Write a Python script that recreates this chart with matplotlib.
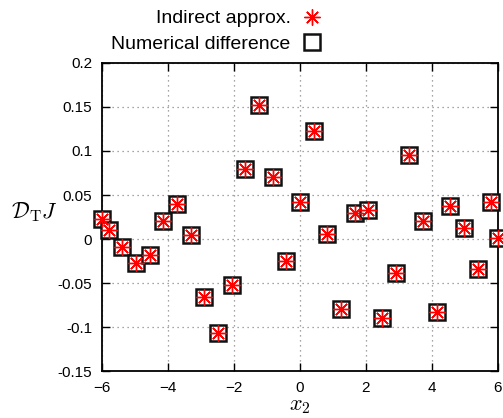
import matplotlib.pyplot as plt

plt.rcParams['font.family'] = ['Liberation Sans', 'DejaVu Sans']
plt.rcParams['mathtext.fontset'] = 'cm'

x2 = [-6.0, -5.79, -5.38, -4.97, -4.55, -4.14, -3.72, -3.31, -2.90, -2.48,
      -2.07, -1.66, -1.24, -0.83, -0.41, 0.0, 0.41, 0.83, 1.24, 1.66,
      2.07, 2.48, 2.90, 3.31, 3.72, 4.14, 4.55, 4.97, 5.38, 5.79, 6.0]
indirect = [0.023, 0.010, -0.009, -0.027, -0.018, 0.021, 0.040, 0.004, -0.066, -0.107,
            -0.052, 0.079, 0.152, 0.071, -0.025, 0.042, 0.123, 0.006, -0.079, 0.030,
            0.033, -0.090, -0.039, 0.095, 0.021, -0.083, 0.038, 0.013, -0.034, 0.042, 0.001]
numerical = list(indirect)

fig = plt.figure(figsize=(5.03, 4.18), dpi=100)
ax = fig.add_axes([0.2028, 0.1124, 0.7872, 0.7369])

ax.plot(x2, indirect, linestyle='none', marker=(8, 2, 0), markersize=11.5,
        markeredgewidth=1.0, color='red', label='Indirect approx.',
        zorder=4, clip_on=False)
ax.plot(x2, numerical, linestyle='none', marker='s', markersize=11,
        markeredgewidth=1.8, markerfacecolor='white', markeredgecolor='#111111',
        label='Numerical difference', zorder=3, clip_on=False)

ax.set_xlim(-6, 6)
ax.set_ylim(-0.15, 0.2)
ax.set_xticks([-6, -4, -2, 0, 2, 4, 6])
ax.set_yticks([-0.15, -0.1, -0.05, 0, 0.05, 0.1, 0.15, 0.2])
ax.set_yticklabels(['-0.15', '-0.1', '-0.05', '0', '0.05', '0.1', '0.15', '0.2'])
ax.tick_params(direction='in', length=6, width=1, top=True, right=True,
               labelsize=11, pad=7, colors='black')
ax.grid(True, linestyle=(0, (1, 3)), color='#888888', linewidth=0.9)
for s in ax.spines.values():
    s.set_linewidth(1.3)
    s.set_zorder(2)

ax.set_xlabel('$x_2$', fontsize=16, labelpad=0)
ax.set_ylabel(r'$\mathcal{D}_\mathrm{T} J$', fontsize=16, rotation=0, va='center')
ax.yaxis.set_label_coords(-0.17, 0.515)

fig.legend(loc='upper right', bbox_to_anchor=(0.655, 0.995), frameon=False,
           markerfirst=False, fontsize=14, handlelength=1.0, handletextpad=0.6,
           labelspacing=0.42, borderaxespad=0)

fig.savefig('out.png', dpi=100)
